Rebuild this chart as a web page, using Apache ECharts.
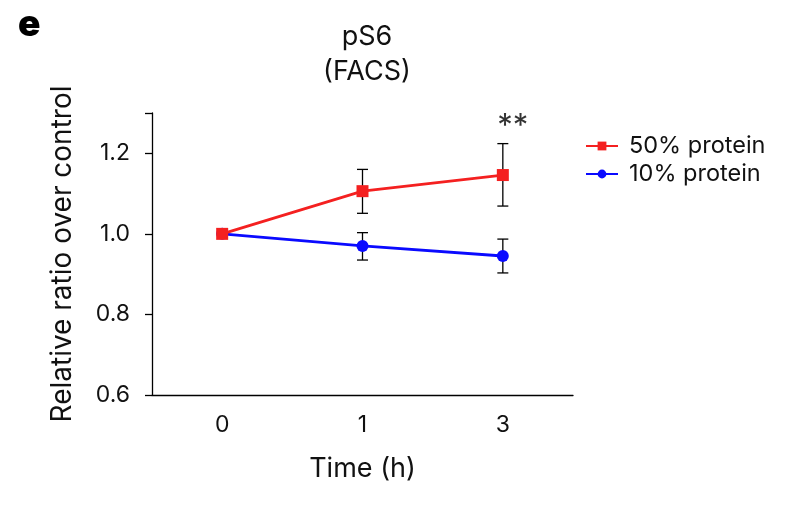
<!DOCTYPE html>
<html><head><meta charset="utf-8">
<script src="https://cdn.jsdelivr.net/npm/echarts@6/dist/echarts.min.js"></script>
<style>html,body{margin:0;padding:0;background:#fff}#c{width:800px;height:509px}</style>
</head><body><div id="c"></div>
<script>
const categories = ['0', '1', '3'];
const yTicks = [0.6, 0.8, 1.0, 1.2];
const protein50 = [1.0, 1.106, 1.146];
const protein50Low = [null, 1.051, 1.069];
const protein50High = [null, 1.160, 1.224];
const protein10 = [1.0, 0.970, 0.945];
const protein10Low = [null, 0.935, 0.903];
const protein10High = [null, 1.003, 0.987];
const significance = [null, null, '**'];
const sigLevel = 1.267;

const FONT = 'Inter';
const chart = echarts.init(document.getElementById('c'), null, {renderer: 'canvas'});

function errData(lo, hi) {
  const out = [];
  for (let i = 0; i < categories.length; i++) {
    if (lo[i] != null) out.push([i, lo[i], hi[i]]);
  }
  return out;
}
function errRender(params, api) {
  const x = api.value(0);
  const lo = api.coord([x, api.value(1)]);
  const hi = api.coord([x, api.value(2)]);
  const hw = 5.5;
  const st = {stroke: '#000', lineWidth: 1.3};
  return {type: 'group', children: [
    {type: 'line', shape: {x1: lo[0], y1: lo[1], x2: hi[0], y2: hi[1]}, style: st},
    {type: 'line', shape: {x1: lo[0]-hw, y1: lo[1], x2: lo[0]+hw, y2: lo[1]}, style: st},
    {type: 'line', shape: {x1: hi[0]-hw, y1: hi[1], x2: hi[0]+hw, y2: hi[1]}, style: st}
  ]};
}

chart.setOption({
  animation: false,
  backgroundColor: '#fff',
  textStyle: {fontFamily: FONT},
  title: [
    {text: 'pS6\n(FACS)', left: 362, top: 14, textAlign: 'center',
     textStyle: {fontFamily: FONT, fontSize: 27, fontWeight: 'normal', color: '#111', lineHeight: 35}},
    {text: 'e', left: 13, top: 1,
     textStyle: {fontFamily: FONT, fontSize: 37, fontWeight: 900, color: '#000'}}
  ],
  legend: {
    orient: 'vertical', left: 580, top: 129, itemGap: 4, itemWidth: 32, itemHeight: 11,
    textStyle: {fontFamily: FONT, fontSize: 23.5, color: '#111', padding: [0,0,0,6]},
    data: ['50% protein', '10% protein']
  },
  grid: {left: 152, right: 227, top: 113, bottom: 114, containLabel: false},
  xAxis: {
    type: 'category', data: categories, boundaryGap: true,
    name: 'Time (h)', nameLocation: 'middle', nameGap: 60,
    nameTextStyle: {fontFamily: FONT, fontSize: 27, color: '#111'},
    axisLine: {lineStyle: {color: '#000', width: 1.3}},
    axisTick: {alignWithLabel: true, length: 8, lineStyle: {color: '#000', width: 1.3}},
    axisLabel: {fontFamily: FONT, fontSize: 23, color: '#111', margin: 19}
  },
  yAxis: {
    type: 'value', min: 0.6, max: 1.3, interval: 0.2,
    name: 'Relative ratio over control', nameLocation: 'middle', nameGap: 75, nameRotate: 90,
    nameTextStyle: {fontFamily: FONT, fontSize: 28, color: '#111'},
    splitLine: {show: false},
    axisLine: {show: true, lineStyle: {color: '#000', width: 1.3}},
    axisTick: {show: true, length: 7, lineStyle: {color: '#000', width: 1.3}},
    axisLabel: {fontFamily: FONT, fontSize: 23, color: '#111', margin: 22,
      formatter: v => yTicks.some(t => Math.abs(t - v) < 1e-6) ? v.toFixed(1) : ''}
  },
  series: [
    {type: 'custom', name: 'err10', renderItem: errRender, data: errData(protein10Low, protein10High), z: 1, silent: true},
    {type: 'custom', name: 'err50', renderItem: errRender, data: errData(protein50Low, protein50High), z: 1, silent: true},
    {type: 'line', name: '10% protein', data: protein10, symbol: 'circle', symbolSize: 12,
     lineStyle: {color: '#0a0aff', width: 2.8}, itemStyle: {color: '#0a0aff'}, z: 3},
    {type: 'line', name: '50% protein', data: protein50, symbol: 'rect', symbolSize: 12,
     lineStyle: {color: '#f42020', width: 2.8}, itemStyle: {color: '#f42020'}, z: 4},
    {type: 'scatter', name: 'sig', symbolSize: 0, silent: true,
     data: significance.map((s, i) => s ? {value: [i, sigLevel], label: {show: true, formatter: s}} : null).filter(d => d),
     label: {position: 'inside', offset: [10, 0], fontFamily: FONT, fontSize: 31, color: '#000'}}
  ]
});
</script></body></html>
